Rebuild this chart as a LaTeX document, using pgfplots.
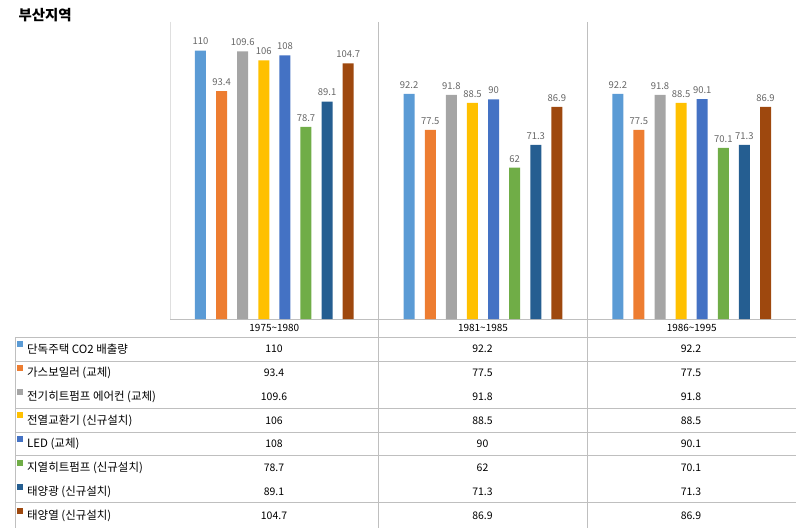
\documentclass[border=0pt]{standalone}
\usepackage{pgfplots}
\pgfplotsset{compat=1.18}
\usepackage{fontspec}
\setmainfont{Noto Sans CJK KR}
\definecolor{c1}{HTML}{5B9BD5}
\definecolor{c2}{HTML}{ED7D31}
\definecolor{c3}{HTML}{A5A5A5}
\definecolor{c4}{HTML}{FFC000}
\definecolor{c5}{HTML}{4472C4}
\definecolor{c6}{HTML}{70AD47}
\definecolor{c7}{HTML}{255E91}
\definecolor{c8}{HTML}{9E480E}
\definecolor{gridc}{HTML}{BFBFBF}
\definecolor{lblc}{HTML}{666666}
\begin{document}
\begin{tikzpicture}[x=1bp,y=1bp]
\useasboundingbox (0,0) rectangle (796,-528);
\node[anchor=west,font=\fontsize{14.5}{14.5}\selectfont\bfseries] at (15,-15) {부산지역};
% frame lines
\draw[gridc!50] (170,-22) -- (170,-319);
\draw[gridc] (378,-22) -- (378,-528);
\draw[gridc] (587,-22) -- (587,-528);
\draw[gridc] (170,-319.5) -- (796,-319.5);
\draw[gridc] (15,-337) -- (15,-528);
\foreach \yy in {337,360.7,408,431.7,455.4,502} {\draw[gridc] (15,-\yy) -- (796,-\yy);}
\begin{axis}[at={(170bp,-319bp)}, anchor=south west, scale only axis,
  width=626bp, height=299bp, xmin=-0.5, xmax=2.5, ymin=0, ymax=122.5,
  axis line style={draw=none}, major tick length=0, ytick=\empty,
  xtick={0,1,2}, xticklabels={1975\textasciitilde 1980,1981\textasciitilde 1985,1986\textasciitilde 1995},
  xticklabel style={anchor=center, yshift=-9bp, font=\fontsize{10}{10}\selectfont, text=black},
  ybar=10.1bp, bar width=11bp, clip=false,
  /pgf/number format/assume math mode=true,
  nodes near coords,
  every node near coord/.append style={font=\fontsize{9.5}{9.5}\selectfont, text=lblc, yshift=2bp},
  ]
\addplot[fill=c1,draw=none] coordinates {(0,110) (1,92.2) (2,92.2)};
\addplot[fill=c2,draw=none] coordinates {(0,93.4) (1,77.5) (2,77.5)};
\addplot[fill=c3,draw=none] coordinates {(0,109.6) (1,91.8) (2,91.8)};
\addplot[fill=c4,draw=none] coordinates {(0,106) (1,88.5) (2,88.5)};
\addplot[fill=c5,draw=none] coordinates {(0,108) (1,90) (2,90.1)};
\addplot[fill=c6,draw=none] coordinates {(0,78.7) (1,62) (2,70.1)};
\addplot[fill=c7,draw=none] coordinates {(0,89.1) (1,71.3) (2,71.3)};
\addplot[fill=c8,draw=none] coordinates {(0,104.7) (1,86.9) (2,86.9)};
\end{axis}
\foreach \name/\a/\b/\c/\col [count=\i from 0] in {
  단독주택 CO2 배출량/110/92.2/92.2/c1,
  가스보일러 (교체)/93.4/77.5/77.5/c2,
  전기히트펌프 에어컨 (교체)/109.6/91.8/91.8/c3,
  전열교환기 (신규설치)/106/88.5/88.5/c4,
  LED (교체)/108/90/90.1/c5,
  지열히트펌프 (신규설치)/78.7/62/70.1/c6,
  태양광 (신규설치)/89.1/71.3/71.3/c7,
  태양열 (신규설치)/104.7/86.9/86.9/c8} {
  \pgfmathsetmacro{\yy}{349+23.8*\i}
  \fill[\col] (17,-\yy+2) rectangle (23,-\yy+8);
  \node[anchor=west,font=\fontsize{11.5}{11.5}\selectfont,inner sep=0] at (27,-\yy) {\name};
  \node[font=\fontsize{10.5}{10.5}\selectfont,inner sep=0] at (274,-\yy) {\a};
  \node[font=\fontsize{10.5}{10.5}\selectfont,inner sep=0] at (482.5,-\yy) {\b};
  \node[font=\fontsize{10.5}{10.5}\selectfont,inner sep=0] at (691,-\yy) {\c};
}
\end{tikzpicture}
\end{document}
